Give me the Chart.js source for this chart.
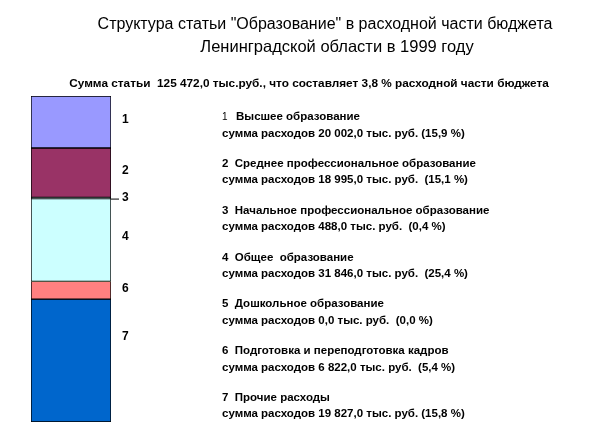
<!DOCTYPE html>
<html>
<head>
<meta charset="utf-8">
<script src="https://cdn.jsdelivr.net/npm/chart.js@4/dist/chart.umd.min.js"></script>
<style>
  html, body { margin: 0; padding: 0; background: #fff; }
  canvas { display: block; }
</style>
</head>
<body>
<canvas id="myChart" width="610" height="437"></canvas>
<script>
// segment numbers, as labelled next to the bar
const segNums = ["1", "2", "3", "4", "5", "6", "7"];
// what the bar shows (thousand rub.)
const barValues = [20002, 18995, 488, 31846, 0, 6822, 47319];
const barTotal = 125472;
const segColors = ["#9999ff", "#993366", "#ccffff", "#ccffff", "#ffffcc", "#ff8080", "#0066cc"];

// legend text on the right
const itemNames = [
  "Высшее образование",
  "Среднее профессиональное образование",
  "Начальное профессиональное образование",
  "Общее  образование",
  "Дошкольное образование",
  "Подготовка и переподготовка кадров",
  "Прочие расходы"
];
const itemAmounts = ["20 002,0", "18 995,0", "488,0", "31 846,0", "0,0", "6 822,0", "19 827,0"];
const itemShares = ["15,9", "15,1", "0,4", "25,4", "0,0", "5,4", "15,8"];

const titleLines = [
  'Структура статьи "Образование" в расходной части бюджета',
  'Ленинградской области в 1999 году'
];
const subTitle = "Сумма статьи  125 472,0 тыс.руб., что составляет 3,8 % расходной части бюджета";

const textPlugin = {
  id: "texts",
  afterDraw(chart) {
    const ctx = chart.ctx;
    const yScale = chart.scales.y;
    const area = chart.chartArea;
    ctx.save();
    ctx.fillStyle = "#000";
    ctx.textBaseline = "middle";

    // title
    ctx.font = "16px 'Liberation Sans', Arial, sans-serif";
    ctx.textAlign = "center";
    ctx.fillText(titleLines[0], 325, 25);
    ctx.font = "16.5px 'Liberation Sans', Arial, sans-serif";
    ctx.fillText(titleLines[1], 337, 47);

    ctx.font = "bold 11.8px 'Liberation Sans', Arial, sans-serif";
    ctx.fillText(subTitle, 309, 84);

    // numbers beside the bar
    ctx.textAlign = "left";
    ctx.font = "bold 12px 'Liberation Sans', Arial, sans-serif";
    let start = 0;
    barValues.forEach((v, i) => {
      const top = yScale.getPixelForValue(start);
      const bottom = yScale.getPixelForValue(start + v);
      start += v;
      if (v <= 0) return;
      const h = bottom - top;
      if (h < 6) {
        // tiny segment: leader line
        ctx.strokeStyle = "#000";
        ctx.lineWidth = 1;
        ctx.beginPath();
        ctx.moveTo(area.right, bottom + 0.5);
        ctx.lineTo(area.right + 8, bottom + 0.5);
        ctx.stroke();
        ctx.fillText(segNums[i], area.right + 11, bottom - 1);
      } else {
        ctx.fillText(segNums[i], area.right + 11, top + Math.min(h / 2, 40) - 2);
      }
    });

    // descriptions
    const x0 = 222;
    itemNames.forEach((name, i) => {
      const y = 117 + i * 46.8;
      if (i === 0) {
        ctx.font = "10px 'Liberation Sans', Arial, sans-serif";
        ctx.fillText(segNums[i], x0, y);
        ctx.font = "bold 11.5px 'Liberation Sans', Arial, sans-serif";
        ctx.fillText(name, x0 + 14, y);
      } else {
        ctx.font = "bold 11.5px 'Liberation Sans', Arial, sans-serif";
        ctx.fillText(segNums[i] + "  " + name, x0, y);
      }
      const gap = i === 0 || i === 6 ? " " : "  ";
      ctx.fillText("сумма расходов " + itemAmounts[i] + " тыс. руб." + gap + "(" + itemShares[i] + " %)", x0, y + 16.5);
    });
    ctx.restore();
  }
};

const ctx = document.getElementById("myChart").getContext("2d");
new Chart(ctx, {
  type: "bar",
  data: {
    labels: [""],
    datasets: barValues.map((v, i) => ({
      label: segNums[i],
      data: [v],
      backgroundColor: segColors[i],
      borderColor: "#000",
      borderWidth: v > 0 ? 1 : 0,
      borderSkipped: false,
      barPercentage: 1,
      categoryPercentage: 1
    }))
  },
  options: {
    responsive: false,
    animation: false,
    layout: { padding: { left: 31, right: 499, top: 96, bottom: 15 } },
    plugins: {
      legend: { display: false },
      title: { display: false },
      tooltip: { enabled: false }
    },
    scales: {
      x: { stacked: true, display: false },
      y: { stacked: true, display: false, reverse: true, min: 0, max: barTotal }
    }
  },
  plugins: [textPlugin]
});
</script>
</body>
</html>
